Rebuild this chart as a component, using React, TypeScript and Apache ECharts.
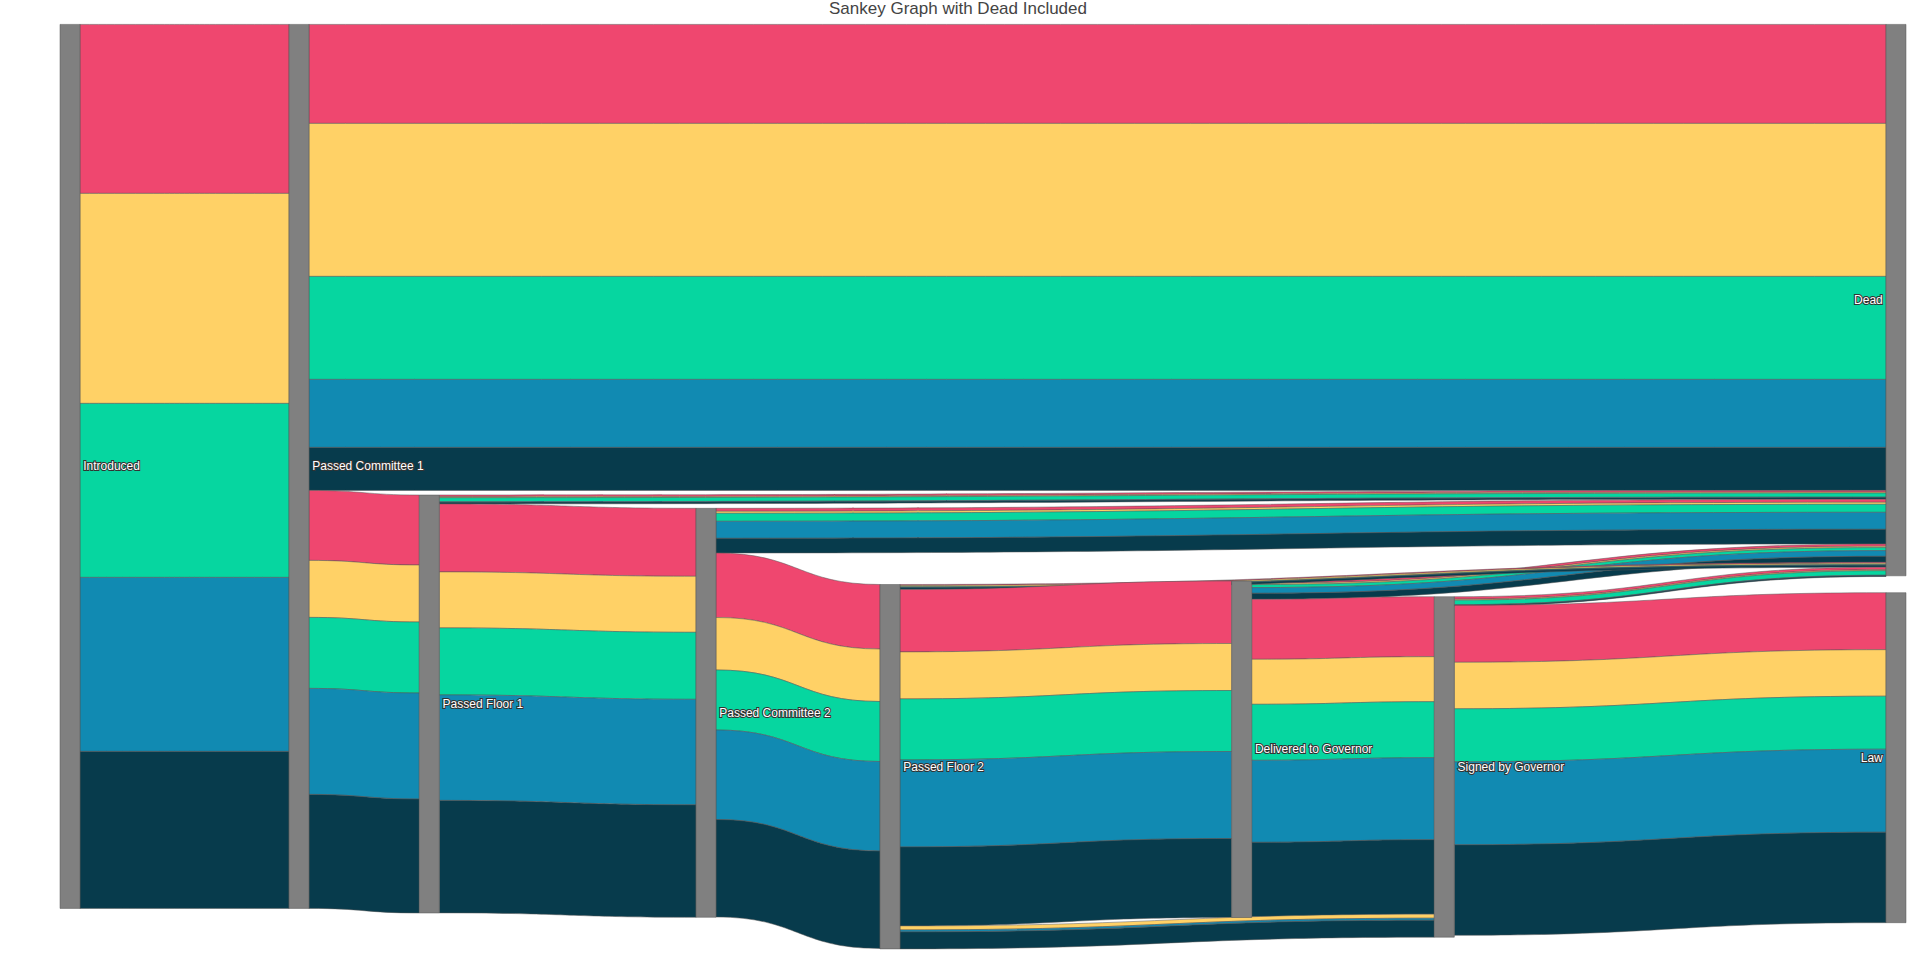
import React, { useEffect, useRef } from "react";
import * as echarts from "echarts";

// ---------- data ----------
const stages = [
  "Introduced",
  "Passed Committee 1",
  "Passed Floor 1",
  "Passed Committee 2",
  "Passed Floor 2",
  "Delivered to Governor",
  "Signed by Governor",
  "Dead",
  "Law",
];

const groupColors = ["#EF476F", "#FFD166", "#06D6A0", "#118AB2", "#073B4C"];

const introducedToCommittee1 = [169, 210, 174, 174, 157];
const committee1ToDead = [99, 153, 103, 68, 43];
const committee1ToFloor1 = [70, 57, 71, 106, 114];
const floor1ToDead = [1.7, 1, 4, 0.5, 1.7];
const floor1ToCommittee2 = [68, 56, 67, 105.5, 112.5];
const committee2ToDead = [3, 2, 8, 17, 14.7];
const committee2ToFloor2 = [64.5, 52.5, 60, 89.5, 97.5];
const deliveredToDead = [2.3, 1.3, 3, 5.7, 6];
const floor2ToDead = [1, 1.3, 0.3, 0.3, 2];
const floor2ToDelivered = [62.5, 47, 61, 87, 79];
const deliveredToSigned = [60, 45, 56, 82, 74.5];
const floor2ToSigned = [0, 4, 0, 2, 17];
const signedToDead = [2.5, 1, 4.5, 0.3, 0.3];
const signedToLaw = [57, 46.5, 53, 83, 90.5];

// ---------- layout (node placement, px) ----------
const nodeLeft = [60, 289, 419.3, 696, 880, 1231.7, 1434.3, 1886, 1886];
const nodeTop = [24.4, 24.4, 495, 508.3, 584.5, 581, 596.7, 24.4, 592.7];
const CHART_W = 1916;
const CHART_H = 959;

const sum = (a: number[]) => a.reduce((s, v) => s + v, 0);

function buildLinks() {
  const flows: [string, string, number[]][] = [
    ["Introduced", "Passed Committee 1", introducedToCommittee1],
    ["Passed Committee 1", "Dead", committee1ToDead],
    ["Passed Committee 1", "Passed Floor 1", committee1ToFloor1],
    ["Passed Floor 1", "Dead", floor1ToDead],
    ["Passed Floor 1", "Passed Committee 2", floor1ToCommittee2],
    ["Passed Committee 2", "Dead", committee2ToDead],
    ["Passed Committee 2", "Passed Floor 2", committee2ToFloor2],
    ["Delivered to Governor", "Dead", deliveredToDead],
    ["Passed Floor 2", "Dead", floor2ToDead],
    ["Passed Floor 2", "Delivered to Governor", floor2ToDelivered],
    ["Delivered to Governor", "Signed by Governor", deliveredToSigned],
    ["Passed Floor 2", "Signed by Governor", floor2ToSigned],
    ["Signed by Governor", "Dead", signedToDead],
    ["Signed by Governor", "Law", signedToLaw],
  ];
  const links: any[] = [];
  flows.forEach(([source, target, vals]) => {
    vals.forEach((v, i) => {
      if (v > 0) {
        links.push({ source, target, value: v, lineStyle: { color: groupColors[i] } });
      }
    });
  });
  return links;
}

export default function App() {
  const ref = useRef<HTMLDivElement>(null);
  useEffect(() => {
    if (!ref.current) return;
    const chart = echarts.init(ref.current, undefined, { renderer: "svg" });
    const deadTotal =
      sum(committee1ToDead) + sum(floor1ToDead) + sum(committee2ToDead) +
      sum(floor2ToDead) + sum(deliveredToDead) + sum(signedToDead);
    const H = Math.max(sum(introducedToCommittee1), deadTotal + sum(signedToLaw));
    const font = "'Liberation Sans', Arial, Helvetica, sans-serif";
    const data = stages.map((name, i) => ({
      name,
      localX: nodeLeft[i] / CHART_W,
      localY: nodeTop[i] / H,
      label: { position: name === "Law" || name === "Dead" ? "left" : "right" },
    }));
    chart.setOption({
      animation: false,
      title: {
        text: "Sankey Graph with Dead Included",
        left: "center",
        top: 0,
        padding: 0,
        textStyle: { fontFamily: font, fontSize: 17, fontWeight: "normal", color: "#444" },
      },
      series: [
        {
          type: "sankey",
          left: 0,
          top: 0,
          width: CHART_W,
          height: H,
          nodeWidth: 20,
          nodeGap: 0,
          layoutIterations: 0,
          nodeAlign: "justify",
          draggable: false,
          emphasis: { disabled: true },
          data,
          links: buildLinks(),
          itemStyle: { color: "#808080", borderColor: "#555", borderWidth: 0.5 },
          lineStyle: { curveness: 0.5, opacity: 1, borderColor: "#555", borderWidth: 0.5 },
          label: {
            show: true,
            distance: 3,
            fontFamily: font,
            fontSize: 12,
            color: "#fff",
            textBorderColor: "#333",
            textBorderWidth: 2,
          },
        },
      ],
    });
    return () => chart.dispose();
  }, []);
  return (
    <div
      ref={ref}
      style={{ position: "fixed", left: 0, top: 0, width: CHART_W, height: CHART_H, background: "#fff" }}
    />
  );
}
